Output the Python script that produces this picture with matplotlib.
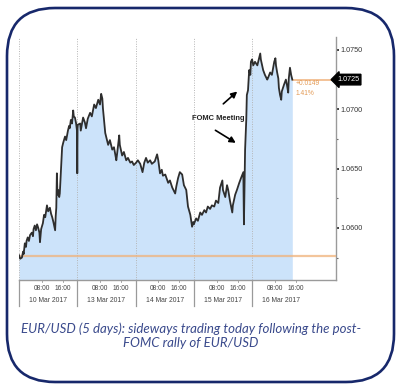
import matplotlib
matplotlib.use("Agg")
import matplotlib.pyplot as plt
from matplotlib.patches import FancyBboxPatch
import matplotlib.transforms as mtrans

# ---------------- data ----------------
day_labels = ["10 Mar 2017", "13 Mar 2017", "14 Mar 2017", "15 Mar 2017", "16 Mar 2017"]
hour_labels = ["08:00", "16:00"]
hour_pos = [0.39, 0.75]          # fraction of a trading day

times = [
    0.00, 0.02, 0.05, 0.07, 0.08, 0.10, 0.12, 0.13, 0.15, 0.17, 0.19, 0.22, 0.24, 0.25,
    0.27, 0.29, 0.31, 0.33, 0.35, 0.36, 0.38, 0.41, 0.43, 0.45, 0.48, 0.50, 0.53, 0.55,
    0.57, 0.59, 0.62, 0.63, 0.64, 0.65, 0.66, 0.67, 0.69, 0.70, 0.72, 0.73, 0.74, 0.76,
    0.79, 0.81, 0.84, 0.86, 0.87, 0.89, 0.91, 0.93, 0.94, 0.96, 0.98, 0.995, 1.00, 1.005,
    1.01, 1.05, 1.06, 1.10, 1.13, 1.15, 1.18, 1.22, 1.25, 1.29, 1.32, 1.36, 1.39, 1.41,
    1.43, 1.44, 1.48, 1.51, 1.53, 1.56, 1.60, 1.63, 1.67, 1.68, 1.72, 1.73, 1.77, 1.80,
    1.84, 1.87, 1.91, 1.94, 1.97, 2.01, 2.04, 2.08, 2.12, 2.15, 2.18, 2.21, 2.25, 2.28,
    2.33, 2.37, 2.39, 2.42, 2.45, 2.47, 2.51, 2.56, 2.59, 2.63, 2.68, 2.70, 2.73, 2.76,
    2.80, 2.83, 2.87, 2.90, 2.94, 2.97, 2.99, 3.00, 3.04, 3.07, 3.11, 3.14, 3.18, 3.21,
    3.24, 3.28, 3.31, 3.35, 3.38, 3.42, 3.45, 3.49, 3.50, 3.54, 3.57, 3.59, 3.62, 3.66,
    3.67, 3.71, 3.74, 3.78, 3.81, 3.85, 3.86, 3.88, 3.90, 3.91, 3.93, 3.95, 3.97, 3.98,
    4.00, 4.02, 4.05, 4.09, 4.12, 4.14, 4.15, 4.19, 4.22, 4.26, 4.27, 4.31, 4.34, 4.38,
    4.40, 4.41, 4.43, 4.45, 4.46, 4.48, 4.50, 4.51, 4.55, 4.58, 4.60, 4.62, 4.63, 4.65,
    4.67, 4.69,
]
prices = [
    1.0577, 1.0574, 1.0575, 1.0580, 1.0578, 1.0587, 1.0584, 1.0589, 1.0592, 1.0589, 1.0594, 1.0596, 1.0593, 1.0599,
    1.0602, 1.0598, 1.0603, 1.0600, 1.0596, 1.0588, 1.0599, 1.0604, 1.0611, 1.0609, 1.0619, 1.0614, 1.0617, 1.0612,
    1.0609, 1.0605, 1.0598, 1.0610, 1.0617, 1.0646, 1.0628, 1.0632, 1.0626, 1.0629, 1.0649, 1.0660, 1.0668, 1.0672,
    1.0677, 1.0674, 1.0682, 1.0686, 1.0684, 1.0691, 1.0688, 1.0699, 1.0694, 1.0693, 1.0688, 1.0682, 1.0646, 1.0684,
    1.0687, 1.0688, 1.0682, 1.0693, 1.0689, 1.0684, 1.0692, 1.0697, 1.0694, 1.0704, 1.0701, 1.0708, 1.0704, 1.0713,
    1.0709, 1.0701, 1.0680, 1.0674, 1.0670, 1.0674, 1.0666, 1.0668, 1.0657, 1.0661, 1.0678, 1.0670, 1.0661, 1.0664,
    1.0657, 1.0659, 1.0655, 1.0656, 1.0653, 1.0655, 1.0657, 1.0654, 1.0647, 1.0655, 1.0659, 1.0655, 1.0657, 1.0654,
    1.0656, 1.0662, 1.0657, 1.0646, 1.0649, 1.0644, 1.0645, 1.0638, 1.0640, 1.0634, 1.0629, 1.0635, 1.0642, 1.0647,
    1.0645, 1.0636, 1.0632, 1.0618, 1.0611, 1.0601, 1.0605, 1.0603, 1.0608, 1.0606, 1.0613, 1.0611, 1.0615, 1.0613,
    1.0618, 1.0616, 1.0619, 1.0618, 1.0623, 1.0621, 1.0634, 1.0640, 1.0632, 1.0626, 1.0636, 1.0632, 1.0623, 1.0613,
    1.0619, 1.0628, 1.0632, 1.0638, 1.0642, 1.0647, 1.0603, 1.0666, 1.0691, 1.0712, 1.0716, 1.0733, 1.0729, 1.0740,
    1.0742, 1.0737, 1.0740, 1.0737, 1.0743, 1.0747, 1.0742, 1.0733, 1.0729, 1.0725, 1.0726, 1.0731, 1.0729, 1.0740,
    1.0743, 1.0737, 1.0731, 1.0726, 1.0718, 1.0712, 1.0708, 1.0715, 1.0721, 1.0725, 1.0720, 1.0714, 1.0726, 1.0735,
    1.0729, 1.0725,
]
prev_close = 1.0576
last_price = 1.0725
change_text = "+0.0149"
change_pct = "1.41%"
major_ticks = [1.0600, 1.0650, 1.0700, 1.0750]
minor_ticks = [1.0575, 1.0625, 1.0675, 1.0725]
annotation = "FOMC Meeting"
caption = "EUR/USD (5 days): sideways trading today following the post-\nFOMC rally of EUR/USD"

# ---------------- layout ----------------
W, H = 400, 389
fig = plt.figure(figsize=(W / 100, H / 100), dpi=100)
fig.patch.set_facecolor("white")

# frame overlay (pixel coordinates)
bg = fig.add_axes([0, 0, 1, 1])
bg.set_xlim(0, W)
bg.set_ylim(H, 0)
bg.axis("off")
bg.add_patch(FancyBboxPatch((7, 8), 387, 374, boxstyle="round,pad=0,rounding_size=48",
                            fc="white", ec="#17286b", lw=1.9))
bg.text(191, 336, caption, ha="center", va="center", fontsize=9.5, style="italic",
        family=["Lato", "DejaVu Sans"], color="#3a4a8c", linespacing=1.2)

YMIN, YMAX = 1.05561, 1.07609
XMAX = 5.44
ax = fig.add_axes([19 / W, 1 - 280 / H, (336 - 19) / W, (280 - 37) / H])
ax.patch.set_alpha(0)
ax.set_xlim(0, XMAX)
ax.set_ylim(YMIN, YMAX)

narrow = ["Liberation Sans Narrow", "Liberation Sans", "DejaVu Sans"]

ax.fill_between(times, prices, YMIN, color="#cce3fa", lw=0, zorder=1)
for d in range(len(day_labels)):
    ax.axvline(d, color="#b5b5b5", ls=(0, (1, 1.5)), lw=0.7, zorder=2)
ax.axhline(prev_close, color="#f0b27a", lw=1.6, alpha=0.75, zorder=3)
ax.plot(times, prices, color="#2e2e2e", lw=1.3, zorder=4, solid_joinstyle="round")
ax.hlines(last_price, times[-1], XMAX, color="#f0b27a", lw=1.1, zorder=3)

ax.text(times[-1] + 0.06, 1.07213, change_text, fontsize=4.8, color="#e39a55",
        family=narrow, va="center", ha="left")
ax.text(times[-1] + 0.06, 1.07129, change_pct, fontsize=4.8, color="#e39a55",
        family=narrow, va="center", ha="left")

ax.text(3.42, 1.06918, annotation, fontsize=5.4, fontweight="bold", family=narrow,
        ha="center", va="center", color="#222222", zorder=6)
ax.annotate("", xy=(3.78, 1.07165), xytext=(3.47, 1.07030),
            arrowprops=dict(arrowstyle="-|>,head_length=0.35,head_width=0.18", lw=1.2, color="black"))
ax.annotate("", xy=(3.76, 1.06705), xytext=(3.33, 1.06835),
            arrowprops=dict(arrowstyle="-|>,head_length=0.35,head_width=0.18", lw=1.2, color="black"))

# spines
for s in ["top", "left"]:
    ax.spines[s].set_visible(False)
ax.spines["right"].set_color("#9a9a9a")
ax.spines["bottom"].set_color("#9a9a9a")
ax.spines["right"].set_linewidth(1.0)
ax.spines["bottom"].set_linewidth(1.0)

ax.yaxis.tick_right()
ax.set_yticks(major_ticks)
ax.set_yticklabels([f"{v:.4f}" for v in major_ticks], family=narrow, fontsize=5.2, color="#333333")
ax.set_yticks(minor_ticks, minor=True)
ax.tick_params(axis="y", which="major", direction="out", length=2.5, width=1.3, color="#333333", pad=1)
ax.tick_params(axis="y", which="minor", direction="out", length=1.2, width=0.8, color="#666666")
ax.set_xticks([])

ax.text(1.003, last_price, f"{last_price:.4f}", transform=mtrans.blended_transform_factory(ax.transAxes, ax.transData),
        fontsize=5.2, family=narrow, color="white", va="center", ha="left", zorder=7,
        bbox=dict(boxstyle="larrow,pad=0.25", fc="black", ec="black"))

# x-axis labels drawn under the plot
bt = mtrans.blended_transform_factory(ax.transData, ax.transAxes)
for d, lab in enumerate(day_labels):
    ax.plot([d, d], [0, -0.105], transform=bt, clip_on=False, color="#9a9a9a", lw=0.9)
    for hp, hl in zip(hour_pos, hour_labels):
        ax.plot([d + hp, d + hp], [0, -0.01], transform=bt, clip_on=False, color="#9a9a9a", lw=0.6)
        ax.text(d + hp, -0.035, hl, transform=bt, fontsize=4.8, family=narrow,
                ha="center", va="center", color="#444444")
    ax.text(d + 0.5, -0.083, lab, transform=bt, fontsize=4.9, family=narrow,
            ha="center", va="center", color="#444444")

fig.savefig("out.png", dpi=100, facecolor="white")
